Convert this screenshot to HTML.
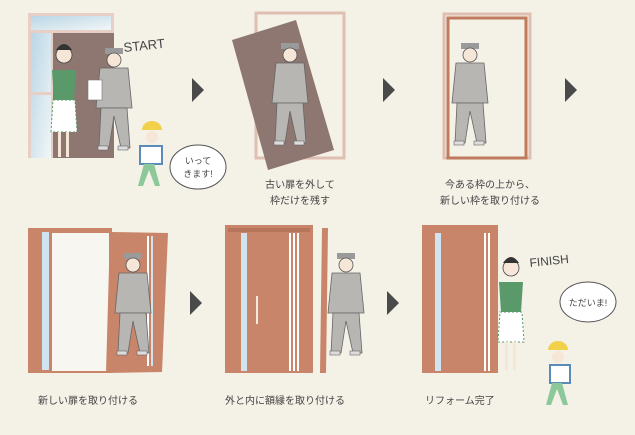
<!DOCTYPE html>
<html><head><meta charset="utf-8"><style>
html,body{margin:0;padding:0;}
body{width:635px;height:430px;background:#f4f1e7;overflow:hidden;font-family:"Liberation Sans","Noto Sans CJK JP",sans-serif;}
svg text{font-family:"Liberation Sans","Noto Sans CJK JP",sans-serif;}
</style></head><body>
<svg width="635" height="430" viewBox="0 0 635 430" xmlns="http://www.w3.org/2000/svg">
<defs>
<linearGradient id="gl" x1="0" y1="0" x2="1" y2="1"><stop offset="0" stop-color="#b9d6e6"/><stop offset="1" stop-color="#f2f6f6"/></linearGradient>
<g id="worker">
 <rect x="-9" y="-2" width="18" height="6" fill="#9a9a9a"/>
 <circle cx="0" cy="10" r="7" fill="#f6e6d8" stroke="#555" stroke-width="0.8"/>
 <path d="M-14 18 h28 l4 40 h-36z" fill="#b8b6b3" stroke="#666" stroke-width="0.8"/>
 <path d="M-13 58 h26 l3 40 h-9 l-7 -32 l-5 32 h-10z" fill="#b8b6b3" stroke="#666" stroke-width="0.8"/>
 <rect x="-16" y="96" width="10" height="4" fill="#ddd" stroke="#666" stroke-width="0.6"/>
 <rect x="4" y="96" width="10" height="4" fill="#ddd" stroke="#666" stroke-width="0.6"/>
</g>
</defs>
<!-- Panel 1 -->
<rect x="28" y="13" width="86" height="145" fill="#e8cfc6"/>
<rect x="31" y="16" width="80" height="14" fill="url(#gl)"/>
<rect x="31" y="33" width="20" height="125" fill="url(#gl)"/>
<rect x="31" y="92" width="20" height="3" fill="#e8cfc6"/>
<rect x="53" y="33" width="61" height="125" fill="#8d7770"/>
<!-- woman -->
<circle cx="64" cy="55" r="8" fill="#f6e6d8" stroke="#444" stroke-width="0.8"/>
<path d="M56 50 q8 -12 16 0z" fill="#333"/>
<path d="M52 70 h24 l-2 30 h-20z" fill="#5a9a6a"/>
<path d="M53 100 h22 l2 32 h-26z" fill="#fff" stroke="#5a9a6a" stroke-dasharray="2 2"/>
<rect x="58" y="132" width="3" height="25" fill="#f6e6d8"/><rect x="66" y="132" width="3" height="25" fill="#f6e6d8"/>
<!-- worker 1 -->
<use href="#worker" x="114" y="50"/>
<rect x="88" y="80" width="14" height="20" fill="#fff" stroke="#777" stroke-width="0.6"/>
<text x="124" y="52" font-size="13" fill="#444" transform="rotate(-6 124 52)">START</text>
<!-- child -->
<path d="M142 130 a10 9 0 0 1 20 0z" fill="#f1d04a"/>
<circle cx="152" cy="137" r="6" fill="#f6e6d8"/>
<rect x="140" y="146" width="22" height="18" fill="#fff" stroke="#5b8bb8" stroke-width="2"/>
<path d="M144 164 l-6 22 h5 l6 -16 l6 16 h5 l-6 -22z" fill="#8cc89a"/>
<ellipse cx="198" cy="167" rx="28" ry="22" fill="#fff" stroke="#555" stroke-width="1"/>
<text x="198" y="164" font-size="9" fill="#444" text-anchor="middle">いって</text>
<text x="198" y="177" font-size="9" fill="#444" text-anchor="middle">きます!</text>
<!-- arrows -->
<polygon points="192,78 204,90 192,102" fill="#4a4a4a"/>
<polygon points="383,78 395,90 383,102" fill="#4a4a4a"/>
<polygon points="565,78 577,90 565,102" fill="#4a4a4a"/>
<polygon points="190,291 202,303 190,315" fill="#4a4a4a"/>
<polygon points="387,291 399,303 387,315" fill="#4a4a4a"/>
<!-- Panel 2 -->
<rect x="256" y="13" width="88" height="145" fill="none" stroke="#e0bfb3" stroke-width="3"/>
<polygon points="232,40 296,20 334,150 268,170" fill="#8d7770"/>
<use href="#worker" x="290" y="45"/>
<text x="300" y="188" font-size="10" fill="#444" text-anchor="middle">古い扉を外して</text>
<text x="300" y="204" font-size="10" fill="#444" text-anchor="middle">枠だけを残す</text>
<!-- Panel 3 -->
<rect x="444" y="14" width="86" height="144" fill="none" stroke="#e0bfb3" stroke-width="3"/>
<rect x="448" y="18" width="78" height="140" fill="none" stroke="#c07a5c" stroke-width="3"/>
<use href="#worker" x="470" y="45"/>
<text x="490" y="188" font-size="10" fill="#444" text-anchor="middle">今ある枠の上から、</text>
<text x="490" y="204" font-size="10" fill="#444" text-anchor="middle">新しい枠を取り付ける</text>
<!-- Panel 4 -->
<rect x="28" y="228" width="84" height="145" fill="#c8856a"/>
<rect x="42" y="232" width="7" height="138" fill="#cfe4ef"/>
<rect x="52" y="233" width="57" height="138" fill="#f8f6f0"/>
<polygon points="110,232 168,233 162,372 106,373" fill="#c8856a"/>
<rect x="147" y="236" width="2" height="130" fill="#fff"/><rect x="151" y="236" width="2" height="130" fill="#cfe4ef"/>
<use href="#worker" x="133" y="255"/>
<text x="38" y="404" font-size="10" fill="#444">新しい扉を取り付ける</text>
<!-- Panel 5 -->
<rect x="225" y="225" width="88" height="148" fill="#c8856a"/>
<rect x="228" y="228" width="82" height="4" fill="#b7765c"/>
<rect x="241" y="233" width="6" height="138" fill="#cfe4ef"/>
<rect x="289" y="233" width="2" height="138" fill="#fff"/><rect x="293" y="233" width="2" height="138" fill="#fff"/><rect x="297" y="233" width="2" height="138" fill="#fff"/>
<rect x="256" y="296" width="2" height="28" fill="#f2e8e0"/>
<polygon points="322,228 328,228 326,373 320,373" fill="#c8856a"/>
<use href="#worker" x="346" y="255"/>
<text x="225" y="404" font-size="10" fill="#444">外と内に額縁を取り付ける</text>
<!-- Panel 6 -->
<rect x="422" y="225" width="76" height="148" fill="#c8856a"/>
<rect x="435" y="233" width="6" height="138" fill="#cfe4ef"/>
<rect x="484" y="233" width="2" height="138" fill="#fff"/><rect x="488" y="233" width="2" height="138" fill="#fff"/>
<!-- woman 2 -->
<circle cx="511" cy="268" r="8" fill="#f6e6d8" stroke="#444" stroke-width="0.8"/>
<path d="M503 263 q8 -12 16 0z" fill="#333"/>
<path d="M499 282 h24 l-2 30 h-20z" fill="#5a9a6a"/>
<path d="M500 312 h22 l2 30 h-26z" fill="#fff" stroke="#5a9a6a" stroke-dasharray="2 2"/>
<rect x="505" y="342" width="3" height="28" fill="#f6e6d8"/><rect x="513" y="342" width="3" height="28" fill="#f6e6d8"/>
<text x="530" y="267" font-size="12" fill="#444" transform="rotate(-6 530 267)">FINISH</text>
<ellipse cx="588" cy="302" rx="28" ry="20" fill="#fff" stroke="#555" stroke-width="1"/>
<text x="588" y="306" font-size="9" fill="#444" text-anchor="middle">ただいま!</text>
<!-- child 2 -->
<path d="M548 350 a10 9 0 0 1 20 0z" fill="#f1d04a"/>
<circle cx="558" cy="357" r="6" fill="#f6e6d8"/>
<rect x="550" y="365" width="20" height="18" fill="#fff" stroke="#5b8bb8" stroke-width="2"/>
<path d="M552 383 l-6 22 h5 l6 -16 l6 16 h5 l-6 -22z" fill="#8cc89a"/>
<text x="425" y="404" font-size="10" fill="#444">リフォーム完了</text>
</svg>
</body></html>
